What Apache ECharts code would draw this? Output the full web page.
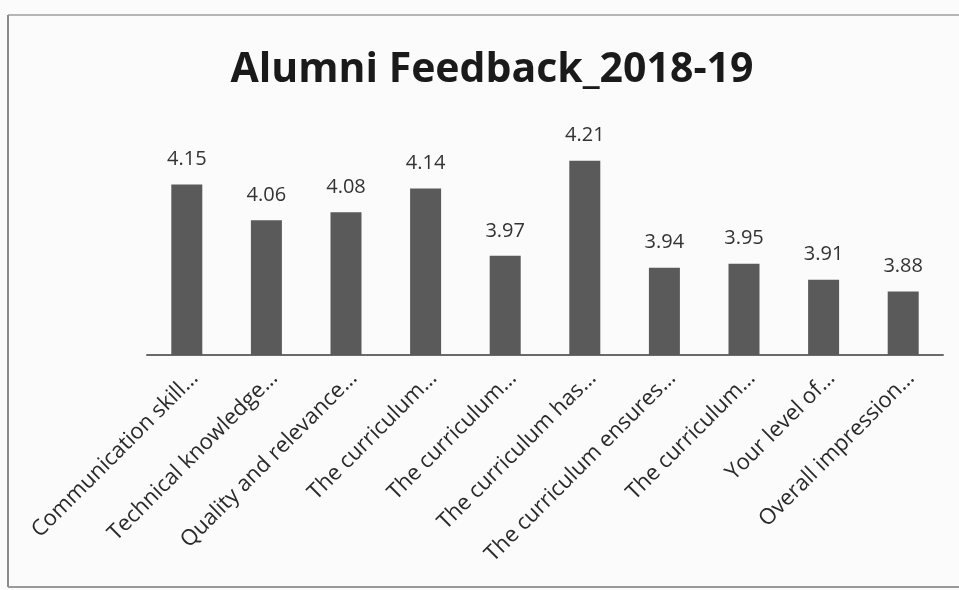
<!DOCTYPE html>
<html>
<head>
<meta charset="utf-8">
<script src="https://cdn.jsdelivr.net/npm/echarts@6/dist/echarts.min.js"></script>
<style>
  html, body { margin: 0; padding: 0; background: #fbfbfb; }
  #chart { width: 959px; height: 590px; }
</style>
</head>
<body>
<div id="chart"></div>
<script>
const titleText = 'Alumni Feedback_2018-19';
const categories = [
  'Communication skill…',
  'Technical knowledge…',
  'Quality and relevance…',
  'The curriculum…',
  'The curriculum…',
  'The curriculum has…',
  'The curriculum ensures…',
  'The curriculum…',
  'Your level of…',
  'Overall impression…'
];
const values = [4.15, 4.06, 4.08, 4.14, 3.97, 4.21, 3.94, 3.95, 3.91, 3.88];

const chart = echarts.init(document.getElementById('chart'), null, { renderer: 'canvas' });
chart.setOption({
  backgroundColor: '#fbfbfb',
  animation: false,
  title: {
    text: titleText,
    left: 487,
    textAlign: 'center',
    top: 45,
    textStyle: { fontFamily: 'Open Sans', fontWeight: 'bold', fontSize: 41, color: '#1a1a1a' }
  },
  grid: { left: 147, width: 796, top: 125, height: 230, containLabel: false },
  xAxis: {
    type: 'category',
    data: categories,
    axisLine: { lineStyle: { color: '#6a6a6a', width: 2 } },
    axisTick: { show: false },
    axisLabel: {
      interval: 0,
      rotate: 45,
      margin: 12,
      verticalAlign: 'top',
      fontFamily: 'Open Sans',
      fontSize: 22,
      color: '#2a2a2a'
    }
  },
  yAxis: {
    type: 'value',
    min: 3.72,
    max: 4.3,
    show: false,
    splitLine: { show: false }
  },
  series: [{
    type: 'bar',
    data: values,
    barWidth: 31,
    itemStyle: { color: '#5a5a5b' },
    label: {
      show: true,
      position: 'top',
      distance: 15,
      fontFamily: 'Open Sans',
      fontSize: 20,
      color: '#333333',
      formatter: p => p.value.toFixed(2)
    }
  }],
  graphic: [
    { type: 'line', shape: { x1: 8, y1: 15, x2: 959, y2: 15 }, style: { stroke: '#b5b5b5', lineWidth: 2 } },
    { type: 'line', shape: { x1: 8, y1: 15, x2: 8, y2: 587 }, style: { stroke: '#8a8a8a', lineWidth: 2 } },
    { type: 'line', shape: { x1: 8, y1: 587, x2: 959, y2: 587 }, style: { stroke: '#9a9a9a', lineWidth: 2 } }
  ]
});
</script>
</body>
</html>
